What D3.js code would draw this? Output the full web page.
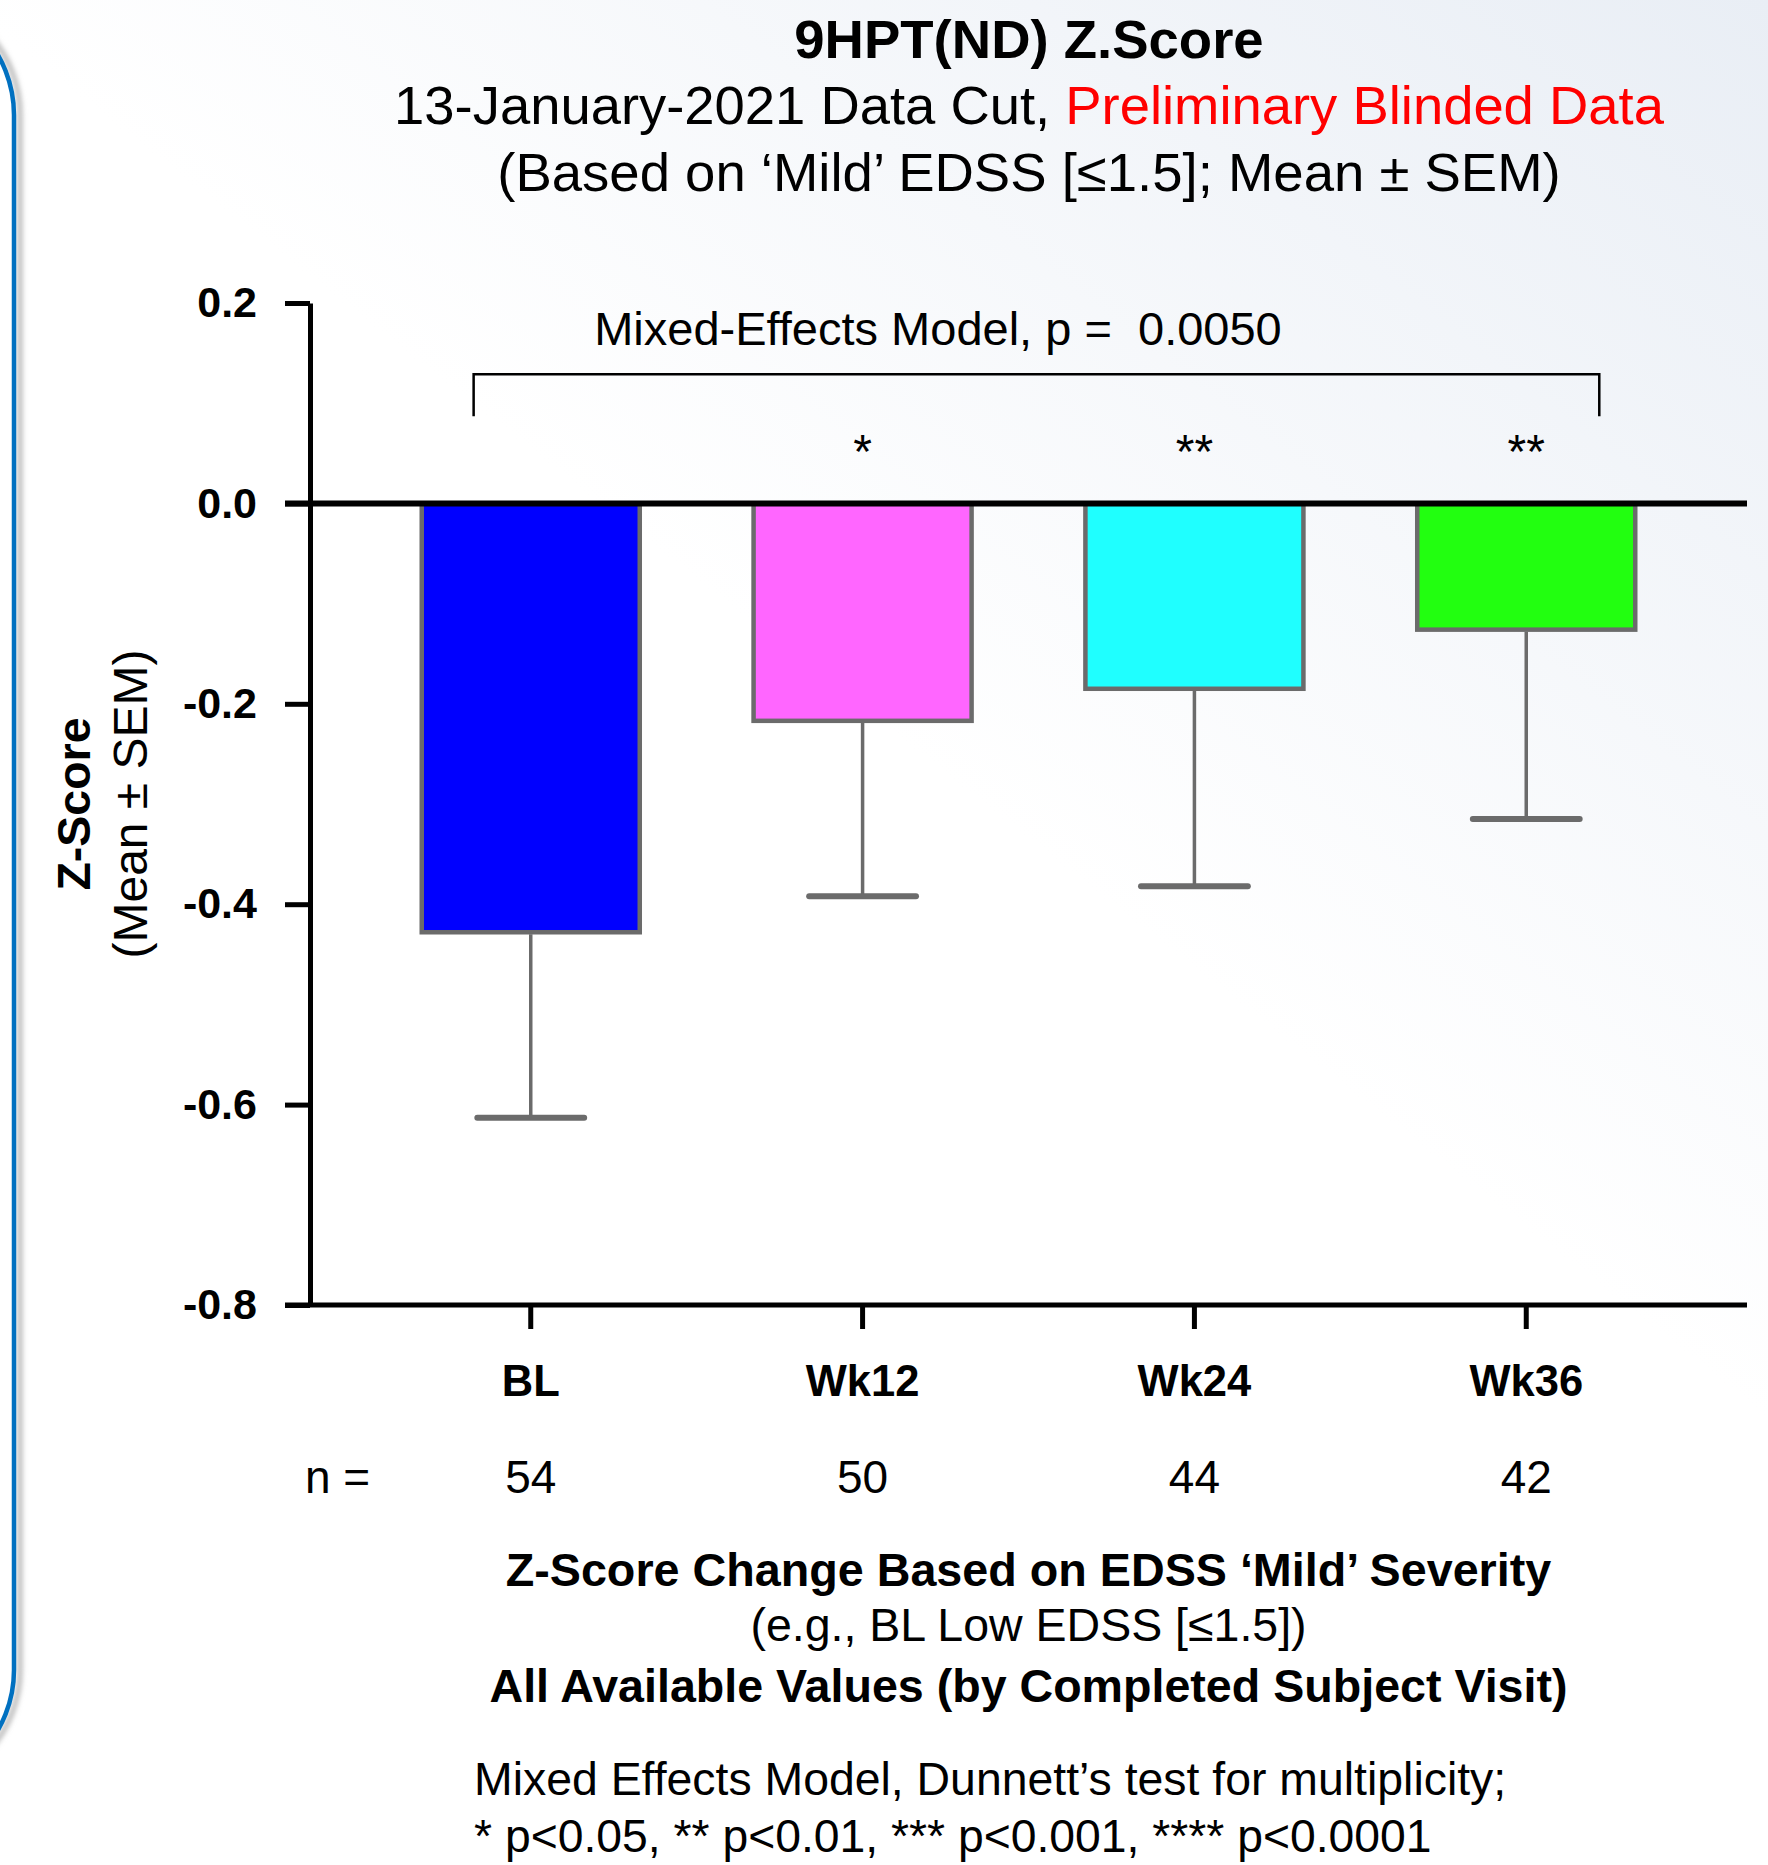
<!DOCTYPE html>
<html>
<head>
<meta charset="utf-8">
<script src="https://cdn.jsdelivr.net/npm/d3@7"></script>
<style>
  html, body { margin: 0; padding: 0; background: #ffffff; }
  svg { display: block; }
  text { font-family: "Liberation Sans", Arial, Helvetica, sans-serif; fill: #000; }
</style>
</head>
<body>
<svg id="chart" width="1768" height="1865"></svg>
<script>
// ---------------- data ----------------
const categories   = ["BL", "Wk12", "Wk24", "Wk36"];
const meanValues   = [-0.428, -0.217, -0.185, -0.126];
const semValues    = [0.185, 0.175, 0.197, 0.189];
const nValues      = [54, 50, 44, 42];
const significance = ["", "*", "**", "**"];
const barColors    = ["#0000FF", "#FF66FF", "#1FFFFF", "#22FF10"];
const yTickValues  = [0.2, 0.0, -0.2, -0.4, -0.6, -0.8];

const titleLine1 = "9HPT(ND) Z.Score";
const titleLine2a = "13-January-2021 Data Cut, ";
const titleLine2b = "Preliminary Blinded Data";
const titleLine3 = "(Based on \u2018Mild\u2019 EDSS [\u22641.5]; Mean \u00B1 SEM)";
const modelText = "Mixed-Effects Model, p =  0.0050";
const footLines = [
  "Z-Score Change Based on EDSS \u2018Mild\u2019 Severity",
  "(e.g., BL Low EDSS [\u22641.5])",
  "All Available Values (by Completed Subject Visit)"
];
const noteLines = [
  "Mixed Effects Model, Dunnett\u2019s test for multiplicity;",
  "* p<0.05, ** p<0.01, *** p<0.001, **** p<0.0001"
];

// ---------------- layout ----------------
const W = 1768, H = 1865;
const axisX = 310, plotRight = 1747;
const yTop = 303, yBottom = 1305;
const centerX = (axisX + plotRight) / 2;
const gray = "#6b6b6b";

const svg = d3.select("#chart");
const defs = svg.append("defs");

// background gradient (light blue-grey at top right)
const grad = defs.append("linearGradient").attr("id", "bg")
  .attr("gradientUnits", "userSpaceOnUse")
  .attr("x1", W).attr("y1", 0).attr("x2", 1080).attr("y2", 880);
grad.append("stop").attr("offset", 0).attr("stop-color", "#e9eef5");
grad.append("stop").attr("offset", 1).attr("stop-color", "#ffffff");
svg.append("rect").attr("width", W).attr("height", H).attr("fill", "#ffffff");
svg.append("rect").attr("width", W).attr("height", H).attr("fill", "url(#bg)");

// left frame (blue rounded panel edge with soft shadow)
const blur = defs.append("filter").attr("id", "blur").attr("x", "-50%").attr("y", "-5%").attr("width", "200%").attr("height", "110%");
blur.append("feGaussianBlur").attr("stdDeviation", 2.5);
svg.append("rect").attr("x", -400 + 6).attr("y", -5).attr("width", 414).attr("height", 1795)
  .attr("rx", 120).attr("fill", "none").attr("stroke", "#b9b9b9").attr("stroke-width", 5)
  .attr("filter", "url(#blur)");
svg.append("rect").attr("x", -400).attr("y", -5).attr("width", 414).attr("height", 1795)
  .attr("rx", 120).attr("fill", "none").attr("stroke", "#0070C0").attr("stroke-width", 4.5);

// ---------------- scales ----------------
const y = d3.scaleLinear().domain([-0.8, 0.2]).range([yBottom, yTop]);
const x = d3.scaleBand().domain(categories).range([365, 1692]).paddingInner(0.343).paddingOuter(0.171);
const bw = x.bandwidth();
const cx = c => x(c) + bw / 2;

const data = categories.map((c, i) => ({
  cat: c, mean: meanValues[i], sem: semValues[i], n: nValues[i], sig: significance[i], color: barColors[i]
}));

// ---------------- titles ----------------
svg.append("text").attr("x", 1029).attr("y", 58).attr("text-anchor", "middle")
  .style("font-size", "54.5px").style("font-weight", "bold").text(titleLine1);
const t2 = svg.append("text").attr("x", 1029).attr("y", 124).attr("text-anchor", "middle")
  .style("font-size", "54.4px");
t2.append("tspan").text(titleLine2a);
t2.append("tspan").style("fill", "#FF0000").text(titleLine2b);
svg.append("text").attr("x", 1029).attr("y", 191).attr("text-anchor", "middle")
  .style("font-size", "54.5px").text(titleLine3);

// ---------------- bars ----------------
const g = svg.append("g");
g.selectAll("rect.bar").data(data).join("rect")
  .attr("class", "bar")
  .attr("x", d => x(d.cat))
  .attr("y", y(0))
  .attr("width", bw)
  .attr("height", d => y(d.mean) - y(0))
  .attr("fill", d => d.color)
  .attr("stroke", gray).attr("stroke-width", 4.5);

// error bars (lower)
g.selectAll("line.err").data(data).join("line")
  .attr("class", "err")
  .attr("x1", d => cx(d.cat)).attr("x2", d => cx(d.cat))
  .attr("y1", d => y(d.mean) + 2).attr("y2", d => y(d.mean - d.sem))
  .attr("stroke", gray).attr("stroke-width", 3.5);
g.selectAll("line.cap").data(data).join("line")
  .attr("class", "cap")
  .attr("x1", d => cx(d.cat) - bw * 0.245).attr("x2", d => cx(d.cat) + bw * 0.245)
  .attr("y1", d => y(d.mean - d.sem)).attr("y2", d => y(d.mean - d.sem))
  .attr("stroke", gray).attr("stroke-width", 6).attr("stroke-linecap", "round");

// ---------------- axes ----------------
const yAxis = d3.axisLeft(y).tickValues(yTickValues).tickSize(25).tickSizeOuter(0).tickPadding(28)
  .tickFormat(d => d.toFixed(1));
const ya = svg.append("g").attr("transform", `translate(${axisX},0)`).call(yAxis);
ya.select(".domain").attr("stroke", "#000").attr("stroke-width", 5);
ya.selectAll(".tick line").attr("stroke", "#000").attr("stroke-width", 5);
ya.selectAll(".tick text").style("font-size", "43px").style("font-weight", "bold")
  .style("font-family", "'Liberation Sans', Arial, sans-serif").attr("fill", "#000");

// zero line and baseline spanning plot width
svg.append("line").attr("x1", axisX - 25).attr("x2", plotRight).attr("y1", y(0)).attr("y2", y(0))
  .attr("stroke", "#000").attr("stroke-width", 6);
svg.append("line").attr("x1", axisX - 25).attr("x2", plotRight).attr("y1", y(-0.8)).attr("y2", y(-0.8))
  .attr("stroke", "#000").attr("stroke-width", 5);

const xAxis = d3.axisBottom(x).tickSize(24).tickSizeOuter(0).tickPadding(36);
const xa = svg.append("g").attr("transform", `translate(0,${y(-0.8)})`).call(xAxis);
xa.select(".domain").remove();
xa.selectAll(".tick line").attr("stroke", "#000").attr("stroke-width", 5);
xa.selectAll(".tick text").style("font-size", "43.5px").style("font-weight", "bold")
  .style("font-family", "'Liberation Sans', Arial, sans-serif").attr("fill", "#000");

// y-axis titles
svg.append("text").attr("transform", `translate(90,${(yTop + yBottom) / 2}) rotate(-90)`)
  .attr("text-anchor", "middle").style("font-size", "46.5px").style("font-weight", "bold").text("Z-Score");
svg.append("text").attr("transform", `translate(147,${(yTop + yBottom) / 2}) rotate(-90)`)
  .attr("text-anchor", "middle").style("font-size", "48px").text("(Mean \u00B1 SEM)");

// significance stars
g.selectAll("text.sig").data(data).join("text")
  .attr("class", "sig")
  .attr("x", d => cx(d.cat))
  .attr("y", y(0.075) + 40)
  .attr("text-anchor", "middle").style("font-size", "48px").text(d => d.sig);

// bracket
const bL = cx(categories[0]) - bw * 0.262, bR = cx(categories[3]) + bw * 0.335;
svg.append("path")
  .attr("d", `M${bL},${y(0.087)}V${y(0.129)}H${bR}V${y(0.087)}`)
  .attr("fill", "none").attr("stroke", "#000").attr("stroke-width", 2.5);
svg.append("text").attr("x", 938).attr("y", 345).attr("text-anchor", "middle")
  .style("font-size", "47px").style("white-space", "pre").text(modelText);

// n row
svg.append("text").attr("x", 305).attr("y", 1493).style("font-size", "46px").text("n =");
g.selectAll("text.n").data(data).join("text")
  .attr("class", "n").attr("x", d => cx(d.cat)).attr("y", 1493)
  .attr("text-anchor", "middle").style("font-size", "46px").text(d => d.n);

// footer
svg.append("text").attr("x", centerX).attr("y", 1586).attr("text-anchor", "middle")
  .style("font-size", "46.7px").style("font-weight", "bold").text(footLines[0]);
svg.append("text").attr("x", centerX).attr("y", 1641).attr("text-anchor", "middle")
  .style("font-size", "46.5px").text(footLines[1]);
svg.append("text").attr("x", centerX).attr("y", 1702).attr("text-anchor", "middle")
  .style("font-size", "46.6px").style("font-weight", "bold").text(footLines[2]);
svg.append("text").attr("x", 474).attr("y", 1795).style("font-size", "46.4px").text(noteLines[0]);
svg.append("text").attr("x", 474).attr("y", 1852).style("font-size", "46.3px").text(noteLines[1]);
</script>
</body>
</html>
